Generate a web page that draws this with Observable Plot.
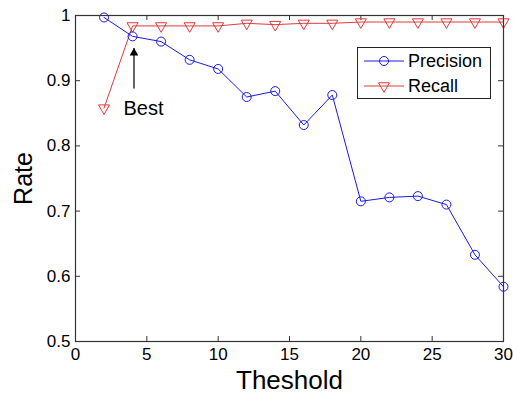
<!DOCTYPE html>
<html><head><meta charset="utf-8">
<script src="https://cdn.jsdelivr.net/npm/d3@7"></script>
<script src="https://cdn.jsdelivr.net/npm/@observablehq/plot@0.6"></script>
<style>
body{margin:0;background:#fff;}
#wrap{position:relative;width:513px;height:399px;font-family:"Liberation Sans",Arial,sans-serif;}
#legend{position:absolute;left:357px;top:47px;width:132px;height:50px;border:1px solid #222;background:#fff;}
#legend svg{position:absolute;left:0;top:0;}
</style>
</head><body><div id="wrap"></div>
<script>
const thresholds = [2, 4, 6, 8, 10, 12, 14, 16, 18, 20, 22, 24, 26, 28, 30];
const precision = [0.997, 0.968, 0.960, 0.932, 0.918, 0.875, 0.884, 0.832, 0.878, 0.715, 0.721, 0.723, 0.710, 0.633, 0.584];
const recall = [0.858, 0.984, 0.984, 0.984, 0.984, 0.988, 0.986, 0.988, 0.988, 0.990, 0.990, 0.990, 0.990, 0.990, 0.990];
const xTicks = [0, 5, 10, 15, 20, 25, 30];
const yTicks = [0.5, 0.6, 0.7, 0.8, 0.9, 1];
const seriesNames = ["Precision", "Recall"];
const annotation = [{x: 4.1, yTail: 0.888, yTip: 0.950, textX: 3.36, textY: 0.857, label: "Best"}];
const xLabel = "Theshold";
const yLabel = "Rate";

const blue = "#1a1ae6";
const red = "#e03a3a";
const font = '"Liberation Sans", Arial, sans-serif';

const W = 513, H = 399, mt = 15, mr = 10, mb = 58, ml = 75;
const ph = H - mt - mb;
const pw = W - ml - mr;
const tk = 5;
const rows = thresholds.map((t, i) => ({t, p: precision[i], r: recall[i]}));

const chart = Plot.plot({
  width: W, height: H,
  marginTop: mt, marginRight: mr, marginBottom: mb, marginLeft: ml,
  style: {fontFamily: font, fontSize: "17px", color: "#000", background: "#fff"},
  x: {domain: [0, 30]},
  y: {domain: [0.5, 1]},
  marks: [
    Plot.axisX(xTicks, {tickSize: 0, tickPadding: 6, tickFormat: d => String(d), label: null, fontSize: 17}),
    Plot.axisY(yTicks, {tickSize: 0, tickPadding: 5, tickFormat: d => String(d), label: null, fontSize: 17}),
    Plot.tickX(xTicks, {x: d => d, insetTop: ph - tk, stroke: "#333"}),
    Plot.tickX(xTicks, {x: d => d, insetBottom: ph - tk, stroke: "#333"}),
    Plot.tickY(yTicks, {y: d => d, insetRight: pw - tk, stroke: "#333"}),
    Plot.tickY(yTicks, {y: d => d, insetLeft: pw - tk, stroke: "#333"}),
    Plot.line(rows, {x: "t", y: "r", stroke: red, strokeWidth: 1}),
    Plot.dot(rows, {x: "t", y: "r", symbol: "triangle", rotate: 180, r: 4.1, stroke: red, fill: "none", strokeWidth: 1}),
    Plot.line(rows, {x: "t", y: "p", stroke: blue, strokeWidth: 1}),
    Plot.dot(rows, {x: "t", y: "p", r: 4.5, stroke: blue, fill: "none", strokeWidth: 1}),
    Plot.link(annotation, {x1: "x", x2: "x", y1: "yTail", y2: "yTip", stroke: "#000", strokeWidth: 1.2}),
    Plot.dot(annotation, {x: "x", y: "yTip", symbol: "triangle", fill: "#000", stroke: "none", r: 3.2, dy: 5}),
    Plot.text(annotation, {x: "textX", y: "textY", text: "label", textAnchor: "start", lineAnchor: "middle", fontSize: 20, fill: "#000"}),
    Plot.text([xLabel], {frameAnchor: "bottom", textAnchor: "middle", lineAnchor: "middle", dy: 39, fontSize: 26, fill: "#000"}),
    Plot.text([yLabel], {frameAnchor: "left", textAnchor: "middle", lineAnchor: "middle", dx: -52, rotate: -90, fontSize: 25, fill: "#000"}),
    Plot.frame({stroke: "#333", strokeWidth: 1.2})
  ]
});
const wrap = document.getElementById("wrap");
wrap.appendChild(chart);

// legend
const legend = document.createElement("div");
legend.id = "legend";
const colors = [blue, red];
const lsvg = d3.create("svg").attr("width", 132).attr("height", 50);
seriesNames.forEach((name, i) => {
  const y = 13 + i * 25;
  lsvg.append("line").attr("x1", 6).attr("x2", 46).attr("y1", y).attr("y2", y)
    .attr("stroke", colors[i]).attr("stroke-width", 1);
  if (i === 0) {
    lsvg.append("circle").attr("cx", 26).attr("cy", y).attr("r", 4.5)
      .attr("fill", "none").attr("stroke", colors[i]);
  } else {
    lsvg.append("path").attr("d", d3.symbol(d3.symbolTriangle, Math.PI * 4.1 * 4.1)())
      .attr("transform", `translate(26,${y}) rotate(180)`)
      .attr("fill", "none").attr("stroke", colors[i]);
  }
  lsvg.append("text").attr("x", 50).attr("y", y).attr("dy", "0.35em")
    .attr("font-family", font).attr("font-size", 18).attr("fill", "#000").text(name);
});
legend.appendChild(lsvg.node());
wrap.appendChild(legend);
</script>
</body></html>
